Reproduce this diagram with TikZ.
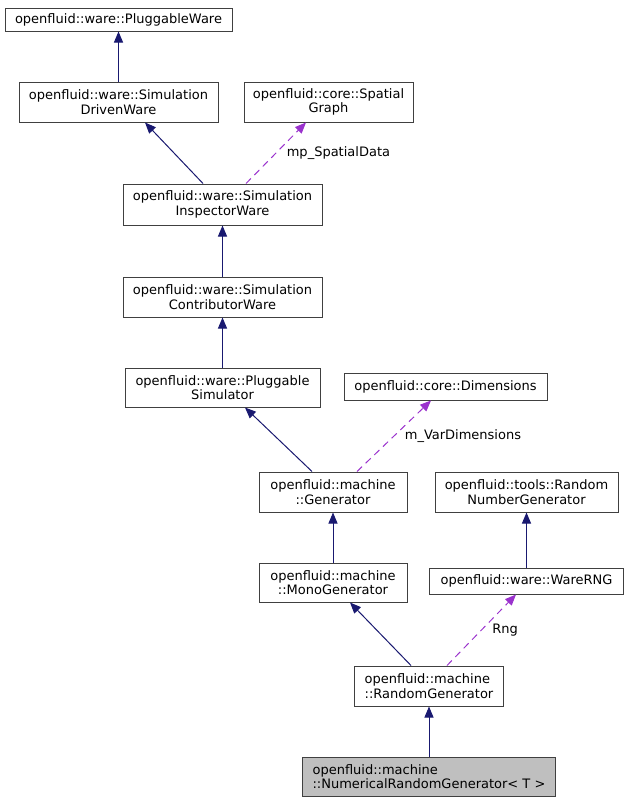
\documentclass[tikz,border=0pt]{standalone}
\usepackage{fontspec}
\setmainfont{DejaVu Sans}
\usetikzlibrary{arrows.meta}
\definecolor{inhblue}{HTML}{191970}
\definecolor{usepurple}{HTML}{9A32CD}
\definecolor{boxgray}{HTML}{404040}

\begin{document}
\begin{tikzpicture}[x=1pt,y=-1pt,line width=1pt,
                    font=\fontsize{13}{14.5}\selectfont,
                    main node/.style={rectangle,draw=boxgray,inner sep=0pt,align=center},
                    inherit/.style={draw=inhblue,-{Triangle[length=11pt,width=9pt]}},
                    usage/.style={draw=usepurple,dash pattern=on 7pt off 5pt,
                                  -{Triangle[length=11pt,width=9pt]}},
                    usage label/.style={pos=0.5,anchor=west,xshift=7pt}]
  \useasboundingbox (0,0) rectangle (628,803);
  \node[main node,minimum width=227pt,minimum height=23pt] (1) at (118.5,19.5) {openfluid::ware::PluggableWare};
  \node[main node,minimum width=199pt,minimum height=40pt] (2) at (118.5,102) {openfluid::ware::Simulation\\DrivenWare};
  \node[main node,minimum width=169pt,minimum height=40pt] (3) at (328.5,102) {openfluid::core::Spatial\\Graph};
  \node[main node,minimum width=199pt,minimum height=41pt] (4) at (222.5,204.5) {openfluid::ware::Simulation\\InspectorWare};
  \node[main node,minimum width=199pt,minimum height=40pt] (5) at (222.5,297) {openfluid::ware::Simulation\\ContributorWare};
  \node[main node,minimum width=195pt,minimum height=39pt] (6) at (222.5,387.5) {openfluid::ware::Pluggable\\Simulator};
  \node[main node,minimum width=203pt,minimum height=27pt] (7) at (445.5,386.5) {openfluid::core::Dimensions};
  \node[main node,minimum width=148pt,minimum height=40pt] (8) at (333,492) {openfluid::machine\\::Generator};
  \node[main node,minimum width=183pt,minimum height=40pt] (9) at (526.5,492) {openfluid::tools::Random\\NumberGenerator};
  \node[main node,minimum width=148pt,minimum height=39pt] (10) at (333,582.5) {openfluid::machine\\::MonoGenerator};
  \node[main node,minimum width=194pt,minimum height=26pt] (11) at (526.5,581) {openfluid::ware::WareRNG};
  \node[main node,minimum width=149pt,minimum height=40pt,align=left] (12) at (429,686) {openfluid::machine\\::RandomGenerator};
  \node[main node,minimum width=253pt,minimum height=39pt,align=left,fill=black!25] (13) at (429,776.5) {openfluid::machine\\::NumericalRandomGenerator< T >};
  \path
    (2) edge[inherit] (1)
    ([xshift=-19.5pt]4.north) edge[inherit] ([xshift=26.5pt]2.south)
    ([xshift=23.5pt]4.north) edge[usage] node[usage label] {mp\_SpatialData} ([xshift=-22.5pt]3.south)
    (5) edge[inherit] (4)
    (6) edge[inherit] (5)
    ([xshift=-21pt]8.north) edge[inherit] ([xshift=22.5pt]6.south)
    ([xshift=24pt]8.north) edge[usage] node[usage label] {m\_VarDimensions} ([xshift=-14.5pt]7.south)
    (10) edge[inherit] (8)
    (11) edge[inherit] (9)
    ([xshift=-18pt]12.north) edge[inherit] ([xshift=17pt]10.south)
    ([xshift=18pt]12.north) edge[usage] node[usage label] {Rng} ([xshift=-10.5pt]11.south)
    (13) edge[inherit] (12)
    ;
\end{tikzpicture}
\end{document}
